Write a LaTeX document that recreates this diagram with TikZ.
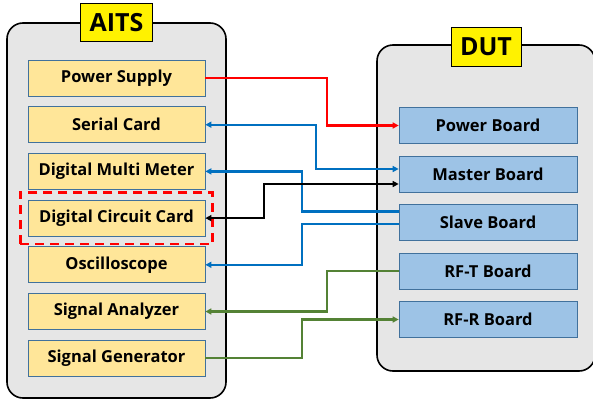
\documentclass[tikz,border=0pt]{standalone}
\usepackage{fontspec}
\setmainfont{Open Sans}
\usepackage{tikz}
\usetikzlibrary{positioning,arrows.meta,calc,fit}
\definecolor{cardfill}{HTML}{FFE699}
\definecolor{boardfill}{HTML}{9DC3E6}
\definecolor{edge}{HTML}{41719C}
\definecolor{panel}{HTML}{E6E6E6}
\definecolor{linkblue}{HTML}{0070C0}
\definecolor{linkgreen}{HTML}{548235}
\begin{document}
\begin{tikzpicture}[
    x=1pt, y=-1pt,
    node distance=10pt,
    frame/.style={draw, line width=1.6pt, rounded corners=16pt, fill=panel, inner sep=0pt},
    tag/.style={draw, line width=0.8pt, fill=yellow, minimum width=72pt, minimum height=38pt, inner sep=0pt, font=\fontsize{25}{28}\selectfont\bfseries},
    card/.style={draw=edge, line width=0.7pt, fill=cardfill, minimum width=177pt, minimum height=36pt, inner sep=0pt, font=\fontsize{16.5}{19}\selectfont\bfseries},
    board/.style={draw=edge, line width=0.7pt, fill=boardfill, minimum width=178pt, minimum height=36pt, inner sep=0pt, font=\fontsize{16.5}{19}\selectfont\bfseries},
    hilite/.style={draw=red, line width=2.8pt, dash pattern=on 9pt off 6pt, inner sep=7.5pt},
    arr/.style={-{Triangle[length=6pt,width=6pt]}, line width=2.2pt},
    both/.style={{Triangle[length=6pt,width=6pt]}-{Triangle[length=6pt,width=6pt]}, line width=2.2pt}
  ]
    \useasboundingbox (0,0) rectangle (593,399);

    \node[frame, minimum width=219pt, minimum height=375pt] (aits) at (116.5,210.5) {};
    \node[frame, minimum width=218pt, minimum height=326pt] (dut) at (486,208) {};
    \node[tag] (aitslbl) at (aits.north) {AITS};
    \node[tag, minimum width=70pt, minimum height=39pt] (dutlbl) at (486,46.5) {DUT};

    \node[card] (ps) at (116.5,78) {Power Supply};
    \node[card, below=of ps] (sc) {Serial Card};
    \node[card, below=of sc] (dmm) {Digital Multi Meter};
    \node[card, below=of dmm] (dcc) {Digital Circuit Card};
    \node[card, below=of dcc] (osc) {Oscilloscope};
    \node[card, below=of osc] (sa) {Signal Analyzer};
    \node[card, below=of sa] (sg) {Signal Generator};
    \node[hilite, fit=(dcc)] (dccmark) {};

    \node[board] (pb) at (488,125.5) {Power Board};
    \node[board, below=11.8pt of pb] (mb) {Master Board};
    \node[board, below=11.8pt of mb] (sb) {Slave Board};
    \node[board, below=11.8pt of sb] (rft) {RF-T Board};
    \node[board, below=11.8pt of rft] (rfr) {RF-R Board};

    \coordinate (lane1) at (327,0);
    \coordinate (lane2) at (316,0);
    \coordinate (lane3) at (302,0);
    \coordinate (lane4) at (264,0);

    \draw[arr, red] (ps.east) -- (ps.east -| lane1) |- (pb.west);
    \draw[both, linkblue] (sc.east) -- (sc.east -| lane2) |- ([yshift=5pt]mb.west);
    \draw[arr, linkblue] ([yshift=11pt]sb.west) -| (lane3 |- dmm.east) -- (dmm.east);
    \draw[both, black] (dcc.east) -- (dcc.east -| lane4) |- ([yshift=-10pt]mb.west);
    \draw[arr, linkblue] ([yshift=-1.5pt]sb.west) -| (lane3 |- osc.east) -- (osc.east);
    \draw[arr, linkgreen] (rft.west) -| (lane1 |- sa.east) -- (sa.east);
    \draw[arr, linkgreen] (sg.east) -- (sg.east -| lane3) |- (rfr.west);
  \end{tikzpicture}
\end{document}
